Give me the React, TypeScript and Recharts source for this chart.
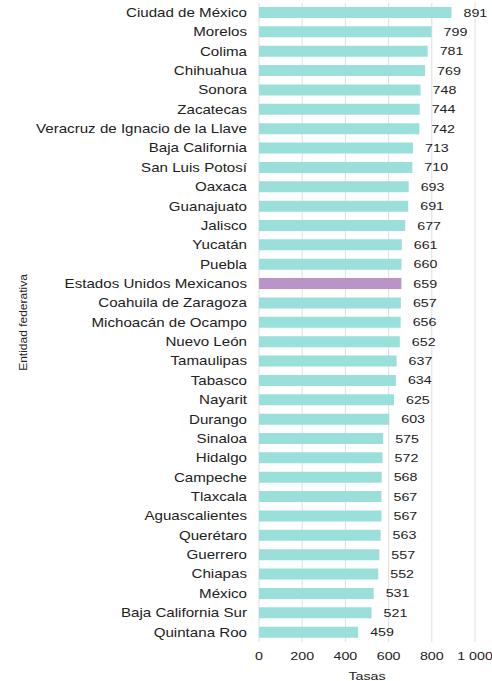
import React from 'react';
import { BarChart, Bar, XAxis, YAxis, CartesianGrid, LabelList, Cell } from 'recharts';

const entidades = [
  'Ciudad de México', 'Morelos', 'Colima', 'Chihuahua', 'Sonora', 'Zacatecas',
  'Veracruz de Ignacio de la Llave', 'Baja California', 'San Luis Potosí', 'Oaxaca',
  'Guanajuato', 'Jalisco', 'Yucatán', 'Puebla', 'Estados Unidos Mexicanos',
  'Coahuila de Zaragoza', 'Michoacán de Ocampo', 'Nuevo León', 'Tamaulipas', 'Tabasco',
  'Nayarit', 'Durango', 'Sinaloa', 'Hidalgo', 'Campeche', 'Tlaxcala', 'Aguascalientes',
  'Querétaro', 'Guerrero', 'Chiapas', 'México', 'Baja California Sur', 'Quintana Roo',
];

const tasas = [
  891, 799, 781, 769, 748, 744, 742, 713, 710, 693, 691, 677, 661, 660, 659,
  657, 656, 652, 637, 634, 625, 603, 575, 572, 568, 567, 567, 563, 557, 552,
  531, 521, 459,
];

const xTicks = [0, 200, 400, 600, 800, 1000];
const nacional = 'Estados Unidos Mexicanos';
const xTitle = 'Tasas';
const yTitle = 'Entidad federativa';

const data = entidades.map((name, i) => ({ name, value: tasas[i] }));

const FONT = 'Liberation Sans, Arial, sans-serif';
const SX = 1.24;
const TEXT_FILL = '#222';

const fmt = (v: number) => (v >= 1000 ? v.toString().replace(/(\d)(\d{3})$/, '$1 $2') : String(v));

const YTick = (props: any) => {
  const { x, y, payload } = props;
  return (
    <g transform={`translate(${x},${y})`}>
      <text transform={`scale(${SX},1)`} textAnchor="end" dy="0.35em" fontSize={12.2} fill={TEXT_FILL} fontFamily={FONT}>
        {payload.value}
      </text>
    </g>
  );
};

const XTick = (props: any) => {
  const { x, y, payload } = props;
  return (
    <g transform={`translate(${x},${y})`}>
      <text transform={`scale(${SX},1)`} textAnchor="middle" dy="0.71em" fontSize={11.5} fill={TEXT_FILL} fontFamily={FONT}>
        {fmt(payload.value)}
      </text>
    </g>
  );
};

const ValueLabel = (props: any) => {
  const { x, y, width, height, value } = props;
  const lx = Number(x) + Number(width) + 12;
  const ly = Number(y) + Number(height) / 2;
  return (
    <g transform={`translate(${lx},${ly})`}>
      <text transform={`scale(${SX},1)`} textAnchor="start" dy="0.35em" fontSize={11.5} fill={TEXT_FILL} fontFamily={FONT}>
        {value}
      </text>
    </g>
  );
};

const XTitle = (props: any) => {
  const vb = props.viewBox || {};
  const cx = vb.x + vb.width / 2;
  const by = vb.y + vb.height - 1.5;
  return (
    <g transform={`translate(${cx},${by})`}>
      <text transform={`scale(${SX},1)`} textAnchor="middle" fontSize={11.5} fill={TEXT_FILL} fontFamily={FONT}>
        {xTitle}
      </text>
    </g>
  );
};

const YTitle = (props: any) => {
  const vb = props.viewBox || {};
  const cy = vb.y + vb.height / 2;
  return (
    <g transform={`translate(23,${cy}) rotate(-90)`}>
      <text transform={`scale(1.2,1)`} textAnchor="middle" dy="0.35em" fontSize={10} fill={TEXT_FILL} fontFamily={FONT}>
        {yTitle}
      </text>
    </g>
  );
};

export default function App() {
  return (
    <div style={{ position: 'absolute', left: 0, top: 0 }}>
      <BarChart
        width={492}
        height={681}
        data={data}
        layout="vertical"
        margin={{ top: 3, right: 17, bottom: 0, left: 30 }}
        barCategoryGap={4}
      >
        <CartesianGrid horizontal={false} vertical={true} stroke="#dedede" />
        <XAxis
          type="number"
          domain={[0, 1000]}
          ticks={xTicks}
          axisLine={false}
          tickLine={false}
          tickSize={0}
          tickMargin={10}
          height={39}
          interval={0}
          tick={<XTick />}
          label={{ content: (p: any) => <XTitle {...p} /> }}
        />
        <YAxis
          type="category"
          dataKey="name"
          width={229}
          axisLine={false}
          tickLine={false}
          tickSize={0}
          tickMargin={12}
          interval={0}
          tick={<YTick />}
          label={{ content: (p: any) => <YTitle {...p} /> }}
        />
        <Bar dataKey="value" isAnimationActive={false}>
          {data.map((d) => (
            <Cell key={d.name} fill={d.name === nacional ? '#BA94C8' : '#9BDFDA'} />
          ))}
          <LabelList dataKey="value" content={(p: any) => <ValueLabel {...p} />} />
        </Bar>
      </BarChart>
    </div>
  );
}
